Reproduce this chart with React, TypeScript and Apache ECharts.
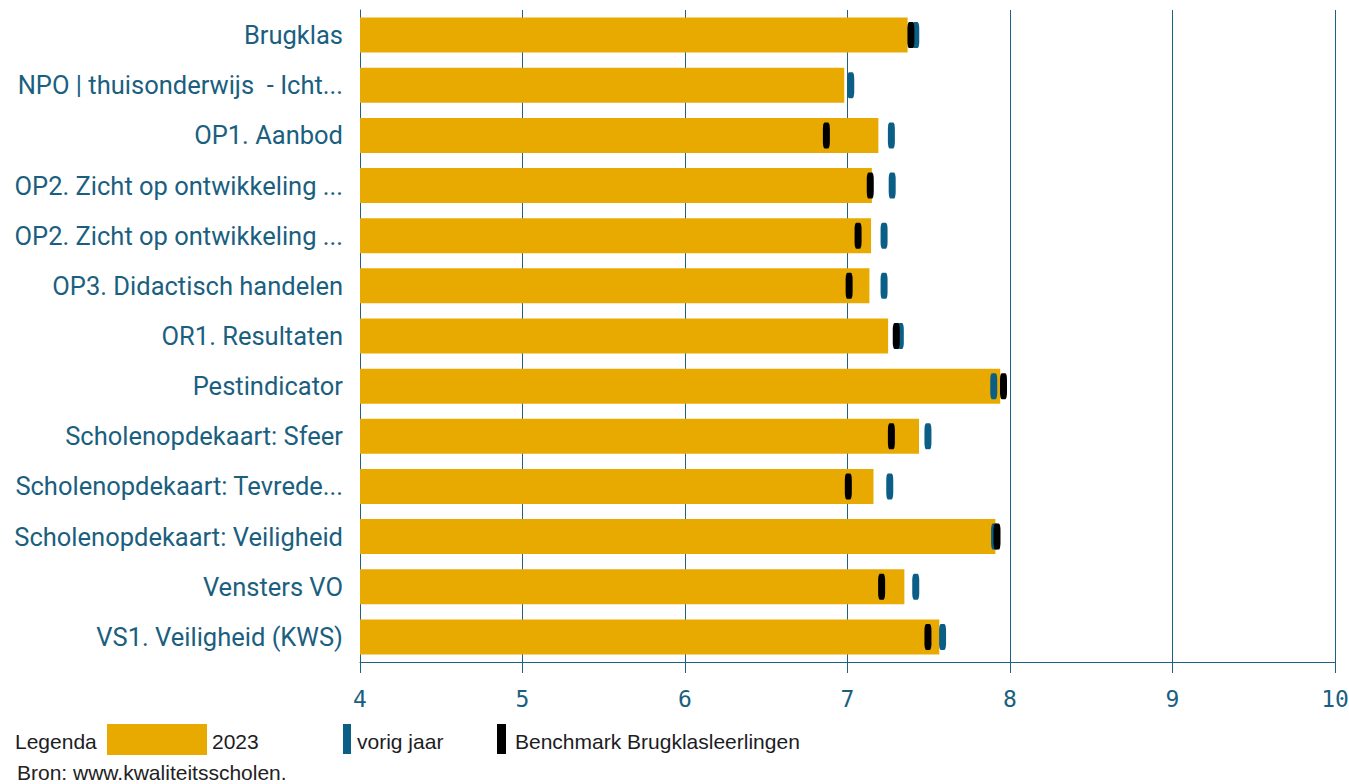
import React, { useEffect, useRef } from "react";
import * as echarts from "echarts";

const categories = [
  "Brugklas",
  "NPO | thuisonderwijs  - Icht...",
  "OP1. Aanbod",
  "OP2. Zicht op ontwikkeling ...",
  "OP2. Zicht op ontwikkeling ...",
  "OP3. Didactisch handelen",
  "OR1. Resultaten",
  "Pestindicator",
  "Scholenopdekaart: Sfeer",
  "Scholenopdekaart: Tevrede...",
  "Scholenopdekaart: Veiligheid",
  "Vensters VO",
  "VS1. Veiligheid (KWS)",
];
const values2023 = [7.37, 6.98, 7.19, 7.15, 7.145, 7.135, 7.25, 7.94, 7.44, 7.16, 7.91, 7.35, 7.565];
const valuesVorigJaar = [7.42, 7.02, 7.27, 7.275, 7.225, 7.225, 7.325, 7.9, 7.495, 7.26, 7.905, 7.42, 7.585];
const valuesBenchmark = [7.39, null, 6.87, 7.14, 7.065, 7.01, 7.3, 7.96, 7.27, 7.005, 7.92, 7.21, 7.495];
const xTicks = [4, 5, 6, 7, 8, 9, 10];

const GOLD = "#E8AA00";
const BLUE = "#0B5F86";
const LABEL = "#1B5F80";
const AXIS = "#1E6283";

export default function App() {
  const ref = useRef<HTMLDivElement>(null);
  useEffect(() => {
    if (!ref.current) return;
    const chart = echarts.init(ref.current, undefined, { renderer: "svg", width: 1349, height: 784 });
    const keys = categories.map((_, i) => String(i));
    const lf = "'Liberation Sans', Arial, sans-serif";
    const txt = "#1c1c24";
    chart.setOption({
      animation: false,
      grid: { left: 360, right: 14, top: 10, bottom: 122, containLabel: false, outerBoundsMode: "none" },
      xAxis: {
        type: "value",
        min: xTicks[0],
        max: xTicks[xTicks.length - 1],
        interval: 1,
        axisLine: { show: true, lineStyle: { color: AXIS, width: 1 } },
        axisTick: { show: true, length: 11, lineStyle: { color: AXIS } },
        splitLine: { show: true, lineStyle: { color: AXIS, width: 1 } },
        axisLabel: {
          color: LABEL,
          fontFamily: "DejaVu Sans Mono",
          fontSize: 23,
          margin: 25,
        },
      },
      yAxis: {
        type: "category",
        inverse: true,
        data: keys,
        axisLine: { show: true, lineStyle: { color: AXIS, width: 1 } },
        axisTick: { show: false },
        axisLabel: {
          color: LABEL,
          fontFamily: "Roboto",
          fontSize: 25.5,
          margin: 17,
          formatter: (v: string) => categories[Number(v)],
        },
      },
      series: [
        {
          type: "bar",
          name: "2023",
          data: values2023,
          barWidth: 35,
          itemStyle: { color: GOLD },
          z: 2,
        },
        {
          type: "scatter",
          name: "vorig jaar",
          data: valuesVorigJaar.map((v, i) => [v, i]),
          symbol: "roundRect",
          symbolSize: [7, 26],
          itemStyle: { color: BLUE, opacity: 1 },
          z: 3,
        },
        {
          type: "scatter",
          name: "Benchmark Brugklasleerlingen",
          data: valuesBenchmark.map((v, i) => (v == null ? null : [v, i])).filter((d) => d !== null),
          symbol: "roundRect",
          symbolSize: [7, 26],
          itemStyle: { color: "#000000", opacity: 1 },
          z: 4,
        },
      ],
      graphic: [
        { type: "text", x: 15, y: 741, style: { text: "Legenda", font: `21px ${lf}`, fill: txt, verticalAlign: "middle" } },
        { type: "rect", shape: { x: 107, y: 724, width: 100, height: 31 }, style: { fill: GOLD } },
        { type: "text", x: 212, y: 741, style: { text: "2023", font: `21px ${lf}`, fill: txt, verticalAlign: "middle" } },
        { type: "rect", shape: { x: 343, y: 724, width: 8, height: 30 }, style: { fill: BLUE } },
        { type: "text", x: 357, y: 741, style: { text: "vorig jaar", font: `21px ${lf}`, fill: txt, verticalAlign: "middle" } },
        { type: "rect", shape: { x: 497, y: 724, width: 9, height: 30 }, style: { fill: "#000000" } },
        { type: "text", x: 515, y: 741, style: { text: "Benchmark Brugklasleerlingen", font: `21px ${lf}`, fill: txt, verticalAlign: "middle" } },
        { type: "text", x: 17, y: 772, style: { text: "Bron: www.kwaliteitsscholen.", font: `21px ${lf}`, fill: "#222222", verticalAlign: "middle" } },
      ],
    });
    return () => chart.dispose();
  }, []);
  return (
    <div
      ref={ref}
      style={{ position: "fixed", left: 0, top: 0, width: 1349, height: 784, background: "#fff" }}
    />
  );
}
